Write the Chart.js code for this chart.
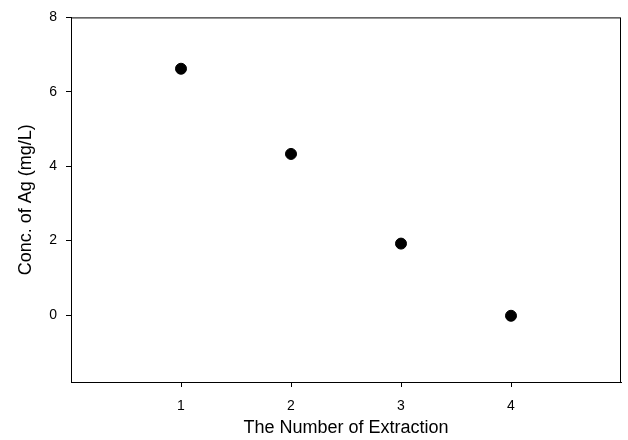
<!DOCTYPE html>
<html>
<head>
<meta charset="utf-8">
<script src="https://cdn.jsdelivr.net/npm/chart.js@4.4.0/dist/chart.umd.min.js"></script>
<style>
    html, body { margin: 0; padding: 0; background: #fff; }
    #wrap { width: 628px; height: 440px; }
</style>
</head>
<body>
<div id="wrap"><canvas id="chart"></canvas></div>
<script>
    // data
    let extraction = [1, 2, 3, 4];
    let concAg = [6.62, 4.33, 1.92, -0.02];
    let xTicks = [1, 2, 3, 4];
    let yTicks = [0, 2, 4, 6, 8];

    Chart.defaults.font.family = "'Liberation Sans', Arial, sans-serif";
    Chart.defaults.color = "#000";

    // box round the plot area
    const frame = {
        id: 'frame',
        afterDraw(chart) {
            const a = chart.chartArea;
            const c = chart.ctx;
            c.save();
            c.strokeStyle = "#000";
            c.lineWidth = 1;
            c.strokeRect(a.left + 0.5, a.top + 0.5, a.right - a.left - 1, a.bottom - a.top);
            c.restore();
        }
    };

    const ctx = document.getElementById("chart");

    new Chart(ctx, {
        type: 'scatter',
        data: {
            datasets: [{
                data: extraction.map((x, i) => ({ x: x, y: concAg[i] })),
                backgroundColor: "#000",
                borderColor: "#000",
                pointRadius: 5.5,
                pointHoverRadius: 5.5
            }]
        },
        options: {
            responsive: true,
            maintainAspectRatio: false,
            animation: false,
            layout: { padding: { top: 17, right: 7, left: 0, bottom: 0 } },
            plugins: {
                legend: { display: false },
                tooltip: { enabled: false }
            },
            scales: {
                x: {
                    type: 'linear',
                    min: 0,
                    max: 5,
                    afterBuildTicks: (axis) => { axis.ticks = xTicks.map(v => ({ value: v })); },
                    afterFit: (axis) => { axis.height = 58; },
                    grid: { drawOnChartArea: false, color: "#000", tickLength: 5 },
                    border: { color: "#000", width: 1 },
                    ticks: { font: { size: 14 }, padding: 11, maxRotation: 0 },
                    title: {
                        display: true,
                        text: "The Number of Extraction",
                        font: { size: 18 },
                        padding: { top: 4, bottom: 1 }
                    }
                },
                y: {
                    min: -1.8,
                    max: 8,
                    afterBuildTicks: (axis) => { axis.ticks = yTicks.map(v => ({ value: v })); },
                    afterFit: (axis) => { axis.width = 71; },
                    grid: { drawOnChartArea: false, color: "#000", tickLength: 5 },
                    border: { color: "#000", width: 1 },
                    ticks: { font: { size: 14 }, padding: 9 },
                    title: {
                        display: true,
                        text: "Conc. of Ag (mg/L)",
                        font: { size: 18 },
                        padding: { top: 15, bottom: 4 }
                    }
                }
            }
        },
        plugins: [frame]
    });
</script>
</body>
</html>
